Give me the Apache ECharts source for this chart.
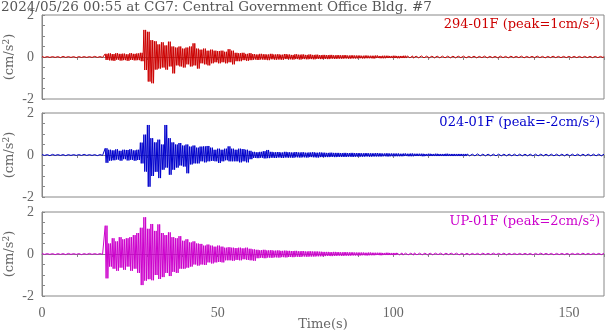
<!DOCTYPE html>
<html>
<head>
<meta charset="utf-8">
<script src="https://cdn.jsdelivr.net/npm/echarts@6/dist/echarts.min.js"></script>
<style>
  html, body { margin: 0; padding: 0; background: #fff; }
  #main { width: 605px; height: 334px; }
</style>
</head>
<body>
<div id="main"></div>
<script>
// peak envelopes read per second, t = 0..160 s (cm/s^2)
const ch1Hi = [
  0.02,0.02,0.03,0.02,0.02,0.02,0.03,0.02,0.02,0.02,
  0.02,0.03,0.02,0.02,0.02,0.03,0.02,0.02,0.15,0.17,
  0.14,0.18,0.15,0.16,0.13,0.18,0.15,0.17,0.2,1.29,
  1.2,0.8,0.75,0.6,0.7,0.55,0.73,0.5,0.45,0.5,
  0.4,0.45,0.5,0.65,0.4,0.35,0.4,0.3,0.35,0.3,
  0.28,0.3,0.25,0.37,0.3,0.2,0.18,0.2,0.15,0.18,
  0.14,0.12,0.15,0.13,0.12,0.15,0.12,0.13,0.11,0.14,
  0.12,0.1,0.13,0.11,0.12,0.1,0.12,0.1,0.11,0.09,
  0.1,0.09,0.1,0.08,0.09,0.08,0.09,0.07,0.08,0.07,
  0.07,0.06,0.07,0.06,0.06,0.07,0.05,0.06,0.06,0.05,
  0.06,0.05,0.05,0.06,0.05,0.05,0.04,0.05,0.05,0.04,
  0.05,0.04,0.04,0.05,0.04,0.04,0.05,0.04,0.04,0.04,
  0.04,0.03,0.04,0.04,0.03,0.04,0.04,0.03,0.04,0.03,
  0.04,0.03,0.03,0.04,0.03,0.03,0.04,0.03,0.03,0.03,
  0.03,0.04,0.03,0.03,0.03,0.04,0.03,0.03,0.03,0.03,
  0.03,0.03,0.04,0.03,0.03,0.03,0.03,0.03,0.03,0.03,
  0.03
];
const ch1Lo = [
  -0.02,-0.03,-0.02,-0.02,-0.02,-0.03,-0.02,-0.02,-0.02,-0.03,
  -0.02,-0.02,-0.02,-0.03,-0.02,-0.02,-0.02,-0.02,-0.14,-0.16,
  -0.18,-0.13,-0.17,-0.15,-0.18,-0.14,-0.16,-0.15,-0.2,-0.62,
  -1.17,-1.25,-0.6,-0.55,-0.5,-0.6,-0.45,-0.78,-0.4,-0.45,
  -0.5,-0.35,-0.45,-0.4,-0.55,-0.3,-0.35,-0.4,-0.3,-0.25,
  -0.3,-0.25,-0.3,-0.25,-0.35,-0.2,-0.2,-0.15,-0.18,-0.15,
  -0.12,-0.14,-0.12,-0.13,-0.15,-0.11,-0.13,-0.12,-0.13,-0.1,
  -0.11,-0.12,-0.1,-0.12,-0.1,-0.11,-0.1,-0.11,-0.09,-0.1,
  -0.09,-0.1,-0.08,-0.09,-0.08,-0.08,-0.07,-0.08,-0.07,-0.07,
  -0.06,-0.07,-0.06,-0.06,-0.07,-0.05,-0.06,-0.06,-0.05,-0.05,
  -0.05,-0.06,-0.05,-0.05,-0.04,-0.05,-0.05,-0.04,-0.04,-0.05,
  -0.04,-0.04,-0.05,-0.04,-0.04,-0.04,-0.04,-0.04,-0.04,-0.03,
  -0.04,-0.04,-0.03,-0.04,-0.03,-0.03,-0.04,-0.03,-0.03,-0.04,
  -0.03,-0.03,-0.04,-0.03,-0.03,-0.03,-0.03,-0.04,-0.03,-0.03,
  -0.03,-0.03,-0.03,-0.04,-0.03,-0.03,-0.03,-0.03,-0.03,-0.03,
  -0.03,-0.04,-0.03,-0.03,-0.03,-0.03,-0.03,-0.03,-0.03,-0.03,
  -0.03
];
const ch2Hi = [
  0.02,0.02,0.02,0.03,0.02,0.02,0.02,0.02,0.03,0.02,
  0.02,0.02,0.03,0.02,0.02,0.02,0.02,0.03,0.32,0.25,
  0.22,0.27,0.2,0.25,0.24,0.27,0.22,0.25,0.59,0.97,
  1.43,0.8,0.6,0.73,0.5,1.43,0.8,0.6,0.5,0.57,
  0.45,0.5,0.4,0.45,0.35,0.4,0.41,0.43,0.35,0.25,
  0.3,0.25,0.3,0.41,0.3,0.25,0.3,0.28,0.25,0.2,
  0.15,0.13,0.15,0.18,0.24,0.15,0.13,0.14,0.12,0.15,
  0.13,0.12,0.14,0.12,0.13,0.11,0.12,0.13,0.11,0.12,
  0.11,0.1,0.11,0.1,0.1,0.09,0.1,0.09,0.1,0.09,
  0.09,0.08,0.09,0.08,0.08,0.09,0.08,0.07,0.08,0.07,
  0.07,0.07,0.06,0.07,0.06,0.07,0.06,0.06,0.06,0.05,
  0.06,0.05,0.06,0.05,0.05,0.06,0.05,0.05,0.05,0.05,
  0.05,0.05,0.04,0.05,0.05,0.04,0.05,0.04,0.04,0.05,
  0.04,0.04,0.05,0.04,0.04,0.04,0.04,0.04,0.04,0.04,
  0.04,0.04,0.04,0.04,0.04,0.04,0.04,0.04,0.04,0.04,
  0.04,0.04,0.04,0.04,0.04,0.04,0.04,0.04,0.04,0.04,
  0.04
];
const ch2Lo = [
  -0.02,-0.02,-0.03,-0.02,-0.02,-0.02,-0.03,-0.02,-0.02,-0.02,
  -0.03,-0.02,-0.02,-0.02,-0.02,-0.03,-0.02,-0.02,-0.37,-0.27,
  -0.25,-0.22,-0.27,-0.2,-0.26,-0.23,-0.27,-0.24,-0.4,-0.79,
  -1.51,-1.0,-0.8,-1.1,-0.7,-0.6,-0.94,-0.7,-0.6,-0.5,
  -0.55,-0.87,-0.45,-0.4,-0.4,-0.3,-0.35,-0.3,-0.28,-0.3,
  -0.38,-0.3,-0.25,-0.3,-0.3,-0.3,-0.35,-0.3,-0.35,-0.2,
  -0.14,-0.15,-0.13,-0.16,-0.15,-0.13,-0.14,-0.12,-0.14,-0.12,
  -0.12,-0.13,-0.11,-0.12,-0.11,-0.12,-0.1,-0.11,-0.12,-0.1,
  -0.1,-0.1,-0.09,-0.1,-0.09,-0.09,-0.09,-0.08,-0.09,-0.08,
  -0.08,-0.08,-0.07,-0.08,-0.07,-0.07,-0.07,-0.06,-0.07,-0.06,
  -0.06,-0.06,-0.06,-0.05,-0.06,-0.06,-0.05,-0.05,-0.06,-0.05,
  -0.05,-0.05,-0.05,-0.05,-0.05,-0.05,-0.05,-0.05,-0.05,-0.05,
  -0.05,-0.04,-0.05,-0.04,-0.04,-0.05,-0.04,-0.04,-0.04,-0.04,
  -0.04,-0.04,-0.04,-0.04,-0.04,-0.04,-0.04,-0.04,-0.04,-0.04,
  -0.04,-0.04,-0.04,-0.04,-0.04,-0.04,-0.04,-0.04,-0.04,-0.04,
  -0.04,-0.04,-0.04,-0.04,-0.04,-0.04,-0.04,-0.04,-0.04,-0.04,
  -0.04
];
const ch3Hi = [
  0.02,0.02,0.03,0.02,0.02,0.02,0.02,0.03,0.02,0.02,
  0.02,0.02,0.02,0.03,0.02,0.02,0.02,0.02,1.35,0.5,
  0.75,0.6,0.8,0.7,0.75,0.8,0.9,1.0,1.25,1.75,
  1.2,1.43,1.1,1.41,1.0,0.9,1.03,0.8,0.75,0.85,
  0.63,0.7,0.55,0.6,0.5,0.48,0.4,0.45,0.4,0.35,
  0.4,0.35,0.3,0.32,0.3,0.28,0.3,0.27,0.3,0.25,
  0.22,0.2,0.18,0.2,0.17,0.18,0.16,0.17,0.15,0.16,
  0.15,0.14,0.15,0.13,0.14,0.12,0.13,0.12,0.12,0.11,
  0.1,0.1,0.09,0.1,0.09,0.08,0.09,0.08,0.08,0.07,
  0.07,0.07,0.06,0.07,0.06,0.06,0.06,0.05,0.06,0.05,
  0.05,0.05,0.05,0.04,0.05,0.04,0.05,0.04,0.04,0.04,
  0.04,0.03,0.04,0.04,0.03,0.04,0.04,0.03,0.04,0.03,
  0.04,0.03,0.03,0.04,0.03,0.04,0.03,0.03,0.04,0.03,
  0.03,0.04,0.03,0.03,0.03,0.04,0.03,0.03,0.03,0.03,
  0.03,0.03,0.04,0.03,0.03,0.03,0.03,0.04,0.03,0.03,
  0.03,0.03,0.03,0.03,0.04,0.03,0.03,0.03,0.03,0.03,
  0.03
];
const ch3Lo = [
  -0.02,-0.02,-0.02,-0.03,-0.02,-0.02,-0.03,-0.02,-0.02,-0.02,
  -0.02,-0.03,-0.02,-0.02,-0.02,-0.02,-0.03,-0.02,-1.16,-0.6,
  -0.7,-0.8,-0.65,-0.75,-0.6,-0.8,-0.7,-0.9,-1.48,-1.27,
  -1.2,-1.25,-1.0,-1.19,-1.1,-0.9,-1.05,-0.85,-0.9,-0.7,
  -0.7,-0.65,-0.6,-0.5,-0.55,-0.5,-0.52,-0.4,-0.45,-0.4,
  -0.38,-0.4,-0.3,-0.3,-0.32,-0.28,-0.3,-0.25,-0.28,-0.3,
  -0.32,-0.2,-0.18,-0.2,-0.17,-0.18,-0.16,-0.17,-0.15,-0.16,
  -0.14,-0.15,-0.13,-0.14,-0.12,-0.13,-0.12,-0.12,-0.11,-0.11,
  -0.1,-0.09,-0.1,-0.09,-0.08,-0.09,-0.08,-0.08,-0.07,-0.07,
  -0.07,-0.06,-0.07,-0.06,-0.06,-0.05,-0.06,-0.05,-0.05,-0.05,
  -0.05,-0.04,-0.05,-0.04,-0.04,-0.05,-0.04,-0.04,-0.04,-0.04,
  -0.04,-0.04,-0.03,-0.04,-0.04,-0.03,-0.04,-0.03,-0.04,-0.03,
  -0.03,-0.04,-0.03,-0.03,-0.04,-0.03,-0.03,-0.03,-0.04,-0.03,
  -0.03,-0.03,-0.04,-0.03,-0.03,-0.03,-0.03,-0.03,-0.03,-0.04,
  -0.03,-0.03,-0.03,-0.03,-0.03,-0.04,-0.03,-0.03,-0.03,-0.03,
  -0.03,-0.03,-0.03,-0.03,-0.03,-0.03,-0.03,-0.03,-0.03,-0.03,
  -0.03
];

const channels = ['294-01F', '024-01F', 'UP-01F'];
const peaks = [1, -2, 2];
const colors = ['#cc0000', '#0000cc', '#cc00cc'];
const highs = [ch1Hi, ch2Hi, ch3Hi];
const lows = [ch1Lo, ch2Lo, ch3Lo];
const xTicks = [0, 50, 100, 150];
const yTicks = [-2, 0, 2];

const numFont = 'Liberation Serif';
const txtFont = 'DejaVu Serif';
const grey = '#666';
const frame = '#888';
const tops = [15, 113, 212];

// the trace swings between the peaks read for each second, twice a second
function trace(hi, lo) {
  const out = [];
  for (let i = 0; i < hi.length; i++) {
    out.push([i, hi[i]]);
    if (i < hi.length - 1) {
      out.push([i + 0.25, lo[i]]);
      out.push([i + 0.5, hi[i]]);
      out.push([i + 0.75, lo[i]]);
    }
  }
  return out;
}

const sup = { fontSize: 9, verticalAlign: 'top', lineHeight: 15, fontFamily: txtFont };

const option = {
  animation: false,
  title: [{
    text: '2024/05/26 00:55 at CG7: Central Government Office Bldg. #7',
    left: 1, top: 1, padding: 0,
    textStyle: { fontFamily: txtFont, fontSize: 13.5, fontWeight: 'normal', color: '#555', lineHeight: 12 }
  }].concat(channels.map((c, i) => ({
    text: c + ' (peak=' + peaks[i] + 'cm/s{s|2})',
    right: 5, top: tops[i] + 2, padding: 0,
    textStyle: {
      fontFamily: txtFont, fontSize: 13, fontWeight: 'normal', color: colors[i], lineHeight: 15,
      rich: { s: Object.assign({}, sup, { color: colors[i] }) }
    }
  }))),
  grid: tops.map(t => ({
    left: 42, right: 1, top: t, height: 84, outerBoundsMode: 'none', containLabel: false,
    show: true, borderColor: frame, borderWidth: 1, backgroundColor: 'transparent'
  })),
  xAxis: tops.map((t, i) => ({
    type: 'value', gridIndex: i, min: 0, max: 160, interval: 10,
    axisLine: { show: true, lineStyle: { color: frame } },
    axisTick: { show: true, inside: false, length: 3, lineStyle: { color: frame } },
    splitLine: { show: false },
    axisLabel: {
      show: i === 2, margin: 10, color: grey, fontFamily: numFont, fontSize: 14,
      formatter: v => xTicks.includes(v) ? String(v) : ''
    },
    name: i === 2 ? 'Time(s)' : '',
    nameLocation: 'middle', nameGap: 22, nameMoveOverlap: false,
    nameTextStyle: { color: grey, fontFamily: txtFont, fontSize: 13 }
  })),
  yAxis: tops.map((t, i) => ({
    type: 'value', gridIndex: i, min: -2, max: 2, interval: 0.5,
    axisLine: { show: true, lineStyle: { color: frame } },
    axisTick: { show: true, inside: true, length: 3, lineStyle: { color: frame } },
    splitLine: { show: false },
    axisLabel: {
      margin: 8, color: grey, fontFamily: numFont, fontSize: 14,
      formatter: v => yTicks.includes(v) ? String(v) : ''
    },
    name: '(cm/s{s|2})',
    nameLocation: 'middle', nameGap: 25, nameMoveOverlap: false,
    nameTextStyle: {
      color: grey, fontFamily: txtFont, fontSize: 13, lineHeight: 15,
      rich: { s: Object.assign({}, sup, { color: grey }) }
    }
  })),
  series: channels.map((c, i) => ({
    name: c, type: 'line', xAxisIndex: i, yAxisIndex: i,
    showSymbol: false, silent: true,
    lineStyle: { color: colors[i], width: 1 },
    data: trace(highs[i], lows[i])
  }))
};

const chart = echarts.init(document.getElementById('main'), null, { renderer: 'canvas' });
chart.setOption(option);
</script>
</body>
</html>
